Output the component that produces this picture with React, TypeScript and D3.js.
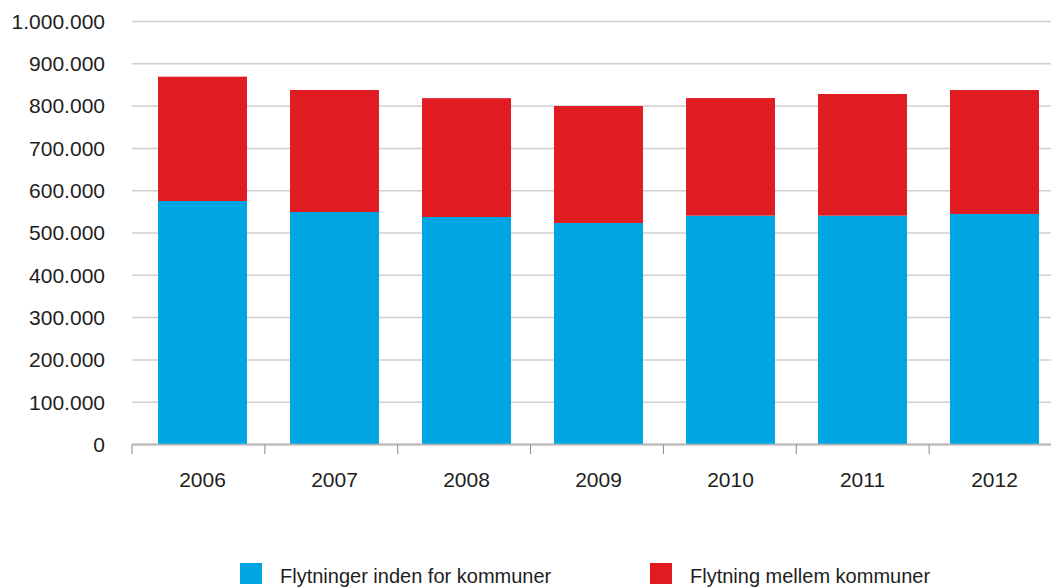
import React from "react";
import * as d3 from "d3";

const years = ["2006", "2007", "2008", "2009", "2010", "2011", "2012"];
const withinMunicipality = [575600, 549600, 537800, 523600, 541000, 541000, 545000];
const betweenMunicipalities = [294000, 288500, 281000, 276600, 278000, 287600, 293000];
const yTicks = [0, 100000, 200000, 300000, 400000, 500000, 600000, 700000, 800000, 900000, 1000000];
const seriesNames = ["Flytninger inden for kommuner", "Flytning mellem kommuner"];
const seriesColors = ["#00a6e2", "#e01c22"];

const W = 1051;
const H = 587;

const fmt = (v: number) =>
  v === 0 ? "0" : d3.format(",")(v).replace(/,/g, ".");

export default function App() {
  const y = d3.scaleLinear().domain([0, 1000000]).range([444.5, 21.5]);
  const xAxis = d3.scaleBand<string>().domain(years).range([132, 1062]);
  const xBars = d3
    .scaleBand<string>()
    .domain(years)
    .range([136.5, 1060.5])
    .paddingInner(0.326)
    .paddingOuter(0.163);

  const rows = years.map((yr, i) => ({
    year: yr,
    within: withinMunicipality[i],
    between: betweenMunicipalities[i],
  }));
  const stack = d3.stack<any>().keys(["within", "between"])(rows);

  const font = "'Liberation Sans', Arial, Helvetica, sans-serif";

  return (
    <svg
      width={W}
      height={H}
      style={{ position: "absolute", left: 0, top: 0, background: "#fff" }}
      fontFamily={font}
    >
      {/* gridlines */}
      {yTicks.map((t) => (
        <line
          key={"g" + t}
          x1={132}
          x2={W}
          y1={y(t)}
          y2={y(t)}
          stroke={t === 0 ? "#b8b8b8" : "#cfcfcf"}
          strokeWidth={t === 0 ? 2 : 1.5}
        />
      ))}
      {/* y labels */}
      {yTicks.map((t) => (
        <text
          key={"l" + t}
          x={105}
          y={y(t)}
          dy="0.35em"
          textAnchor="end"
          fontSize={21}
          fill="#1e1e1e"
        >
          {fmt(t)}
        </text>
      ))}
      {/* bars */}
      {stack.map((layer, si) => (
        <g key={"s" + si} fill={seriesColors[si]}>
          {layer.map((d: any, i: number) => (
            <rect
              key={i}
              x={xBars(years[i])}
              width={xBars.bandwidth()}
              y={y(d[1])}
              height={y(d[0]) - y(d[1])}
            />
          ))}
        </g>
      ))}
      {/* baseline redraw */}
      <line x1={132} x2={W} y1={y(0)} y2={y(0)} stroke="#b8b8b8" strokeWidth={1.5} />
      {/* x ticks */}
      {years.map((yr) => (
        <line
          key={"t" + yr}
          x1={xAxis(yr)}
          x2={xAxis(yr)}
          y1={y(0)}
          y2={454}
          stroke="#888"
          strokeWidth={1}
        />
      ))}
      {years.map((yr) => (
        <text
          key={"x" + yr}
          x={(xBars(yr) as number) + xBars.bandwidth() / 2}
          y={487}
          textAnchor="middle"
          fontSize={21}
          fill="#1e1e1e"
        >
          {yr}
        </text>
      ))}
      {/* legend */}
      {seriesNames.map((name, i) => {
        const lx = [240, 650][i];
        return (
          <g key={"leg" + i}>
            <rect x={lx} y={563} width={22} height={21} fill={seriesColors[i]} />
            <text x={lx + 40} y={583} fontSize={20} fill="#1e1e1e">
              {name}
            </text>
          </g>
        );
      })}
    </svg>
  );
}
